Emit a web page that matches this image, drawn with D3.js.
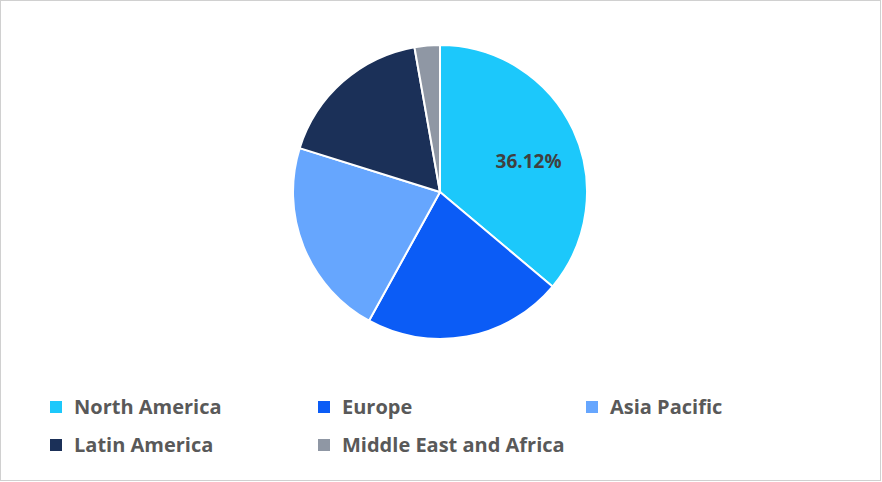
<!DOCTYPE html>
<html><head><meta charset="utf-8">
<script src="https://cdn.jsdelivr.net/npm/d3@7"></script>
<style>body{margin:0;background:#fff}</style>
</head><body><div id="chart"></div>
<script>
const regions = ["North America", "Europe", "Asia Pacific", "Latin America", "Middle East and Africa"]
const shares = [36.12, 21.9, 21.8, 17.4, 2.78]
const colors = ["#1cc8fb", "#0b5cf6", "#66a6fe", "#1b3058", "#8f97a4"]

const svg = d3.select("#chart").append("svg")
    .attr("width", 882).attr("height", 482)

svg.append("rect")
    .attr("x", 0.5).attr("y", 0.5).attr("width", 880).attr("height", 480)
    .attr("fill", "#fff").attr("stroke", "#d0d0d0")

const cx = 440, cy = 192, r = 147
const pie = d3.pie().sort(null).value(d => d)
const arc = d3.arc().innerRadius(0).outerRadius(r)
const arcs = pie(shares)

const g = svg.append("g").attr("transform", `translate(${cx},${cy})`)
g.selectAll("path").data(arcs).join("path")
    .attr("d", arc)
    .attr("fill", (d, i) => colors[i])
    .attr("stroke", "#fff").attr("stroke-width", 2)

const labelArc = d3.arc().innerRadius(r * 0.65).outerRadius(r * 0.65)
const [lx, ly] = labelArc.centroid(arcs[0])
g.append("text")
    .attr("transform", `translate(${lx + 2},${ly + 10})`)
    .attr("text-anchor", "middle").attr("dy", "0.35em")
    .attr("font-family", "Open Sans, sans-serif").attr("font-weight", "bold")
    .attr("font-size", 19).attr("fill", "#404040")
    .text(shares[0].toFixed(2) + "%")

const cols = [50, 318, 586]
const rows = [407, 445]
const lg = svg.append("g")
regions.forEach((name, i) => {
    const x = cols[i % 3], y = rows[Math.floor(i / 3)]
    lg.append("rect").attr("x", x).attr("y", y - 6).attr("width", 12).attr("height", 12)
        .attr("fill", colors[i])
    lg.append("text").attr("x", x + 24).attr("y", y).attr("dy", "0.35em")
        .attr("font-family", "Open Sans, sans-serif").attr("font-weight", "bold")
        .attr("font-size", 20).attr("fill", "#595959")
        .text(name)
})
</script></body></html>
